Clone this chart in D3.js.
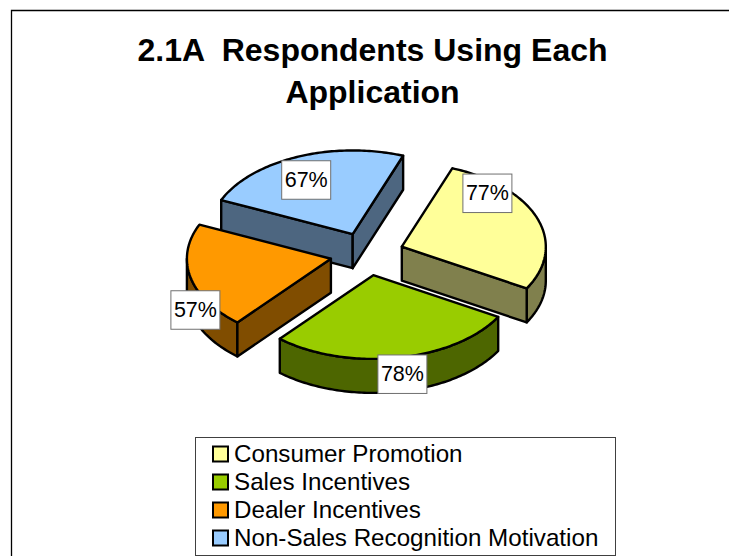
<!DOCTYPE html>
<html>
<head>
<meta charset="utf-8">
<style>html,body{margin:0;padding:0;background:#fff}svg{display:block}text{font-family:"Liberation Sans",Arial,sans-serif;fill:#000}</style>
<script src="https://cdn.jsdelivr.net/npm/d3@7"></script>
</head>
<body>
<svg id="c" width="729" height="556"></svg>
<script>
const titleLines = ["2.1A  Respondents Using Each", "Application"];
const categories = ["Consumer Promotion", "Sales Incentives", "Dealer Incentives", "Non-Sales Recognition Motivation"];
const values = [77, 78, 57, 67];
const topColors = ["#FFFF99", "#99CC00", "#FF9900", "#99CCFF"];
const wallColors = ["#80804D", "#4D6600", "#804D00", "#4D6680"];

const W = 729, H = 556;
const svg = d3.select("#c");
const toRad = Math.PI / 180;

// frame
svg.append("path").attr("d", `M11.5,${H}V10.5H${W}`).attr("fill", "none").attr("stroke", "#000").attr("stroke-width", 1.3);

// title
svg.append("g").selectAll("text").data(titleLines).join("text")
  .attr("x", 372.5).attr("y", (d, i) => 61 + i * 42)
  .attr("text-anchor", "middle").attr("font-weight", "bold").attr("font-size", 32)
  .style("white-space", "pre").attr("xml:space", "preserve").text(d => d);

// 3D pie projection
const cx = 367, cy = 254, rx = 144, squash = 1.72, depth = 34, explode = 37;
const pie = d3.pie().sort(null).startAngle(20.5 * toRad).endAngle(380.5 * toRad);
const arcs = pie(values).map((a, i) => ({...a, i}));
const project = (a, r, ox, oy, z) => [ox + r * Math.sin(a), oy - r * Math.cos(a) / squash + z];
const line = d3.line();

function arcPts(a0, a1, ox, oy, z) {
  const n = Math.max(2, Math.ceil(Math.abs(a1 - a0) / (1 * toRad)));
  return d3.range(n + 1).map(k => project(a0 + (a1 - a0) * k / n, rx, ox, oy, z));
}

function sliceGroup(d) {
  const mid = (d.startAngle + d.endAngle) / 2;
  const [ox, oy] = project(mid, explode, cx, cy, 0);
  const g = svg.append("g").attr("stroke", "#000").attr("stroke-width", 2.4).attr("stroke-linejoin", "round");
  const wall = wallColors[d.i];
  const apex = [ox, oy];
  const apexB = [ox, oy + depth];
  const radialWall = a => {
    const p = project(a, rx, ox, oy, 0), q = project(a, rx, ox, oy, depth);
    g.append("path").attr("d", line([apex, p, q, apexB]) + "Z").attr("fill", wall);
  };
  // outer wall: only the portion of the rim facing the viewer
  const norm = a => ((a % (2 * Math.PI)) + 2 * Math.PI) % (2 * Math.PI);
  const s = norm(d.startAngle), e = s + (d.endAngle - d.startAngle);
  const fs = Math.max(s, 90 * toRad), fe = Math.min(e, 270 * toRad);
  if (fe > fs) {
    const up = arcPts(fs, fe, ox, oy, 0), down = arcPts(fe, fs, ox, oy, depth);
    g.append("path").attr("d", line(up.concat(down)) + "Z").attr("fill", wall);
  }
  if (Math.sin(d.startAngle) < 0) radialWall(d.startAngle);
  if (Math.sin(d.endAngle) > 0) radialWall(d.endAngle);
  const top = [apex].concat(arcPts(d.startAngle, d.endAngle, ox, oy, 0));
  g.append("path").attr("d", line(top) + "Z").attr("fill", topColors[d.i]);
}
// paint back to front: blue, yellow, orange, green
[3, 0, 2, 1].forEach(i => sliceGroup(arcs[i]));

// data labels
const labelCentres = [[487.4, 193.3], [402.4, 374.2], [195.4, 310], [306.2, 180]];
const lw = 49, lh = 38.5;
const lab = svg.append("g").selectAll("g").data(arcs).join("g")
  .attr("transform", d => `translate(${labelCentres[d.i][0]},${labelCentres[d.i][1]})`);
lab.append("rect").attr("x", -lw / 2).attr("y", -lh / 2).attr("width", lw).attr("height", lh)
  .attr("fill", "#fff").attr("stroke", "#707070").attr("stroke-width", 1);
lab.append("text").attr("text-anchor", "middle").attr("y", 7).attr("font-size", 21.5).text(d => d.value + "%");

// legend
svg.append("rect").attr("x", 195.5).attr("y", 437.5).attr("width", 420).attr("height", 118)
  .attr("fill", "#fff").attr("stroke", "#404040").attr("stroke-width", 1);
const rowY = d3.scalePoint().domain(categories).range([454, 538]);
const row = svg.append("g").selectAll("g").data(categories).join("g")
  .attr("transform", d => `translate(0,${rowY(d)})`);
row.append("rect").attr("x", 213).attr("y", -7.5).attr("width", 15).attr("height", 15)
  .attr("fill", (d, i) => topColors[i]).attr("stroke", "#000").attr("stroke-width", 2);
row.append("text").attr("x", 234).attr("y", 8).attr("font-size", 24.2).text(d => d);
</script>
</body>
</html>
